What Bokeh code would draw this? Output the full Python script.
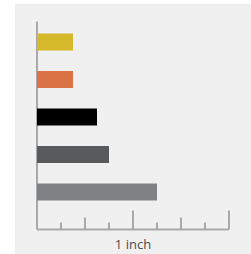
from bokeh.plotting import figure
from bokeh.models import Range1d, BoxAnnotation, Label
from bokeh.embed import file_html
from bokeh.resources import INLINE

# ---- data (lengths in inches) ----
bar_names = ["bar 1", "bar 2", "bar 3", "bar 4", "bar 5"]
bar_lengths = [0.375, 0.375, 0.625, 0.75, 1.25]
bar_colors = ["#d6b82b", "#dc7347", "#000000", "#58595b", "#808184"]
ruler_ticks = [0.25, 0.5, 0.75, 1.0, 1.25, 1.5, 1.75, 2.0]
ruler_label = "1 inch"
ruler_label_at = 1.0

# ---- geometry (pixels) ----
W, H = 251, 254
PX_PER_INCH = 96.0
ZERO_X = 36.5
ROW0 = 41.5
ROW_STEP = 37.5

def row(py):
    return (py - ROW0) / ROW_STEP

def inch(px):
    return (px - ZERO_X) / PX_PER_INCH

p = figure(width=W, height=H, output_backend="svg", toolbar_location=None,
           x_range=Range1d(inch(0), inch(W)),
           y_range=Range1d(row(H), row(0)),
           x_axis_location=None, y_axis_location=None,
           min_border=0, min_border_left=0, min_border_right=0,
           min_border_top=0, min_border_bottom=0)
p.grid.visible = False
p.outline_line_color = None
p.background_fill_color = "#ffffff"
p.border_fill_color = "#ffffff"

panel = BoxAnnotation(left=inch(15), right=inch(400), top=row(4), bottom=row(400),
                      fill_color="#f0f0f0", fill_alpha=1.0,
                      line_color="#d8d8d8", line_width=1, level="underlay")
p.add_layout(panel)

axis_color = "#a9a9ab"
baseline = row(229)
# vertical axis
p.segment(x0=[0], y0=[row(21)], x1=[0], y1=[baseline], line_color=axis_color, line_width=2)
# horizontal ruler line
p.segment(x0=[0], y0=[baseline], x1=[ruler_ticks[-1]], y1=[baseline],
          line_color=axis_color, line_width=2)
# ruler ticks: whole inch long, half medium, quarter short
tick_len = []
for t in ruler_ticks:
    if abs(t - round(t)) < 1e-9:
        tick_len.append(19)
    elif abs(t * 2 - round(t * 2)) < 1e-9:
        tick_len.append(12)
    else:
        tick_len.append(7)
p.segment(x0=ruler_ticks, y0=[baseline] * len(ruler_ticks), x1=ruler_ticks,
          y1=[baseline - l / ROW_STEP for l in tick_len],
          line_color=axis_color, line_width=2)

p.hbar(y=list(range(len(bar_lengths))), left=0, right=bar_lengths,
       height=17 / ROW_STEP, fill_color=bar_colors, line_color=None)

p.add_layout(Label(x=ruler_label_at, y=row(243.5), text=ruler_label,
                   text_align="center", text_baseline="middle",
                   text_font="Open Sans", text_font_size="13px", text_color="#4d4d4f"))

open("out.html", "w").write(file_html(p, INLINE))
